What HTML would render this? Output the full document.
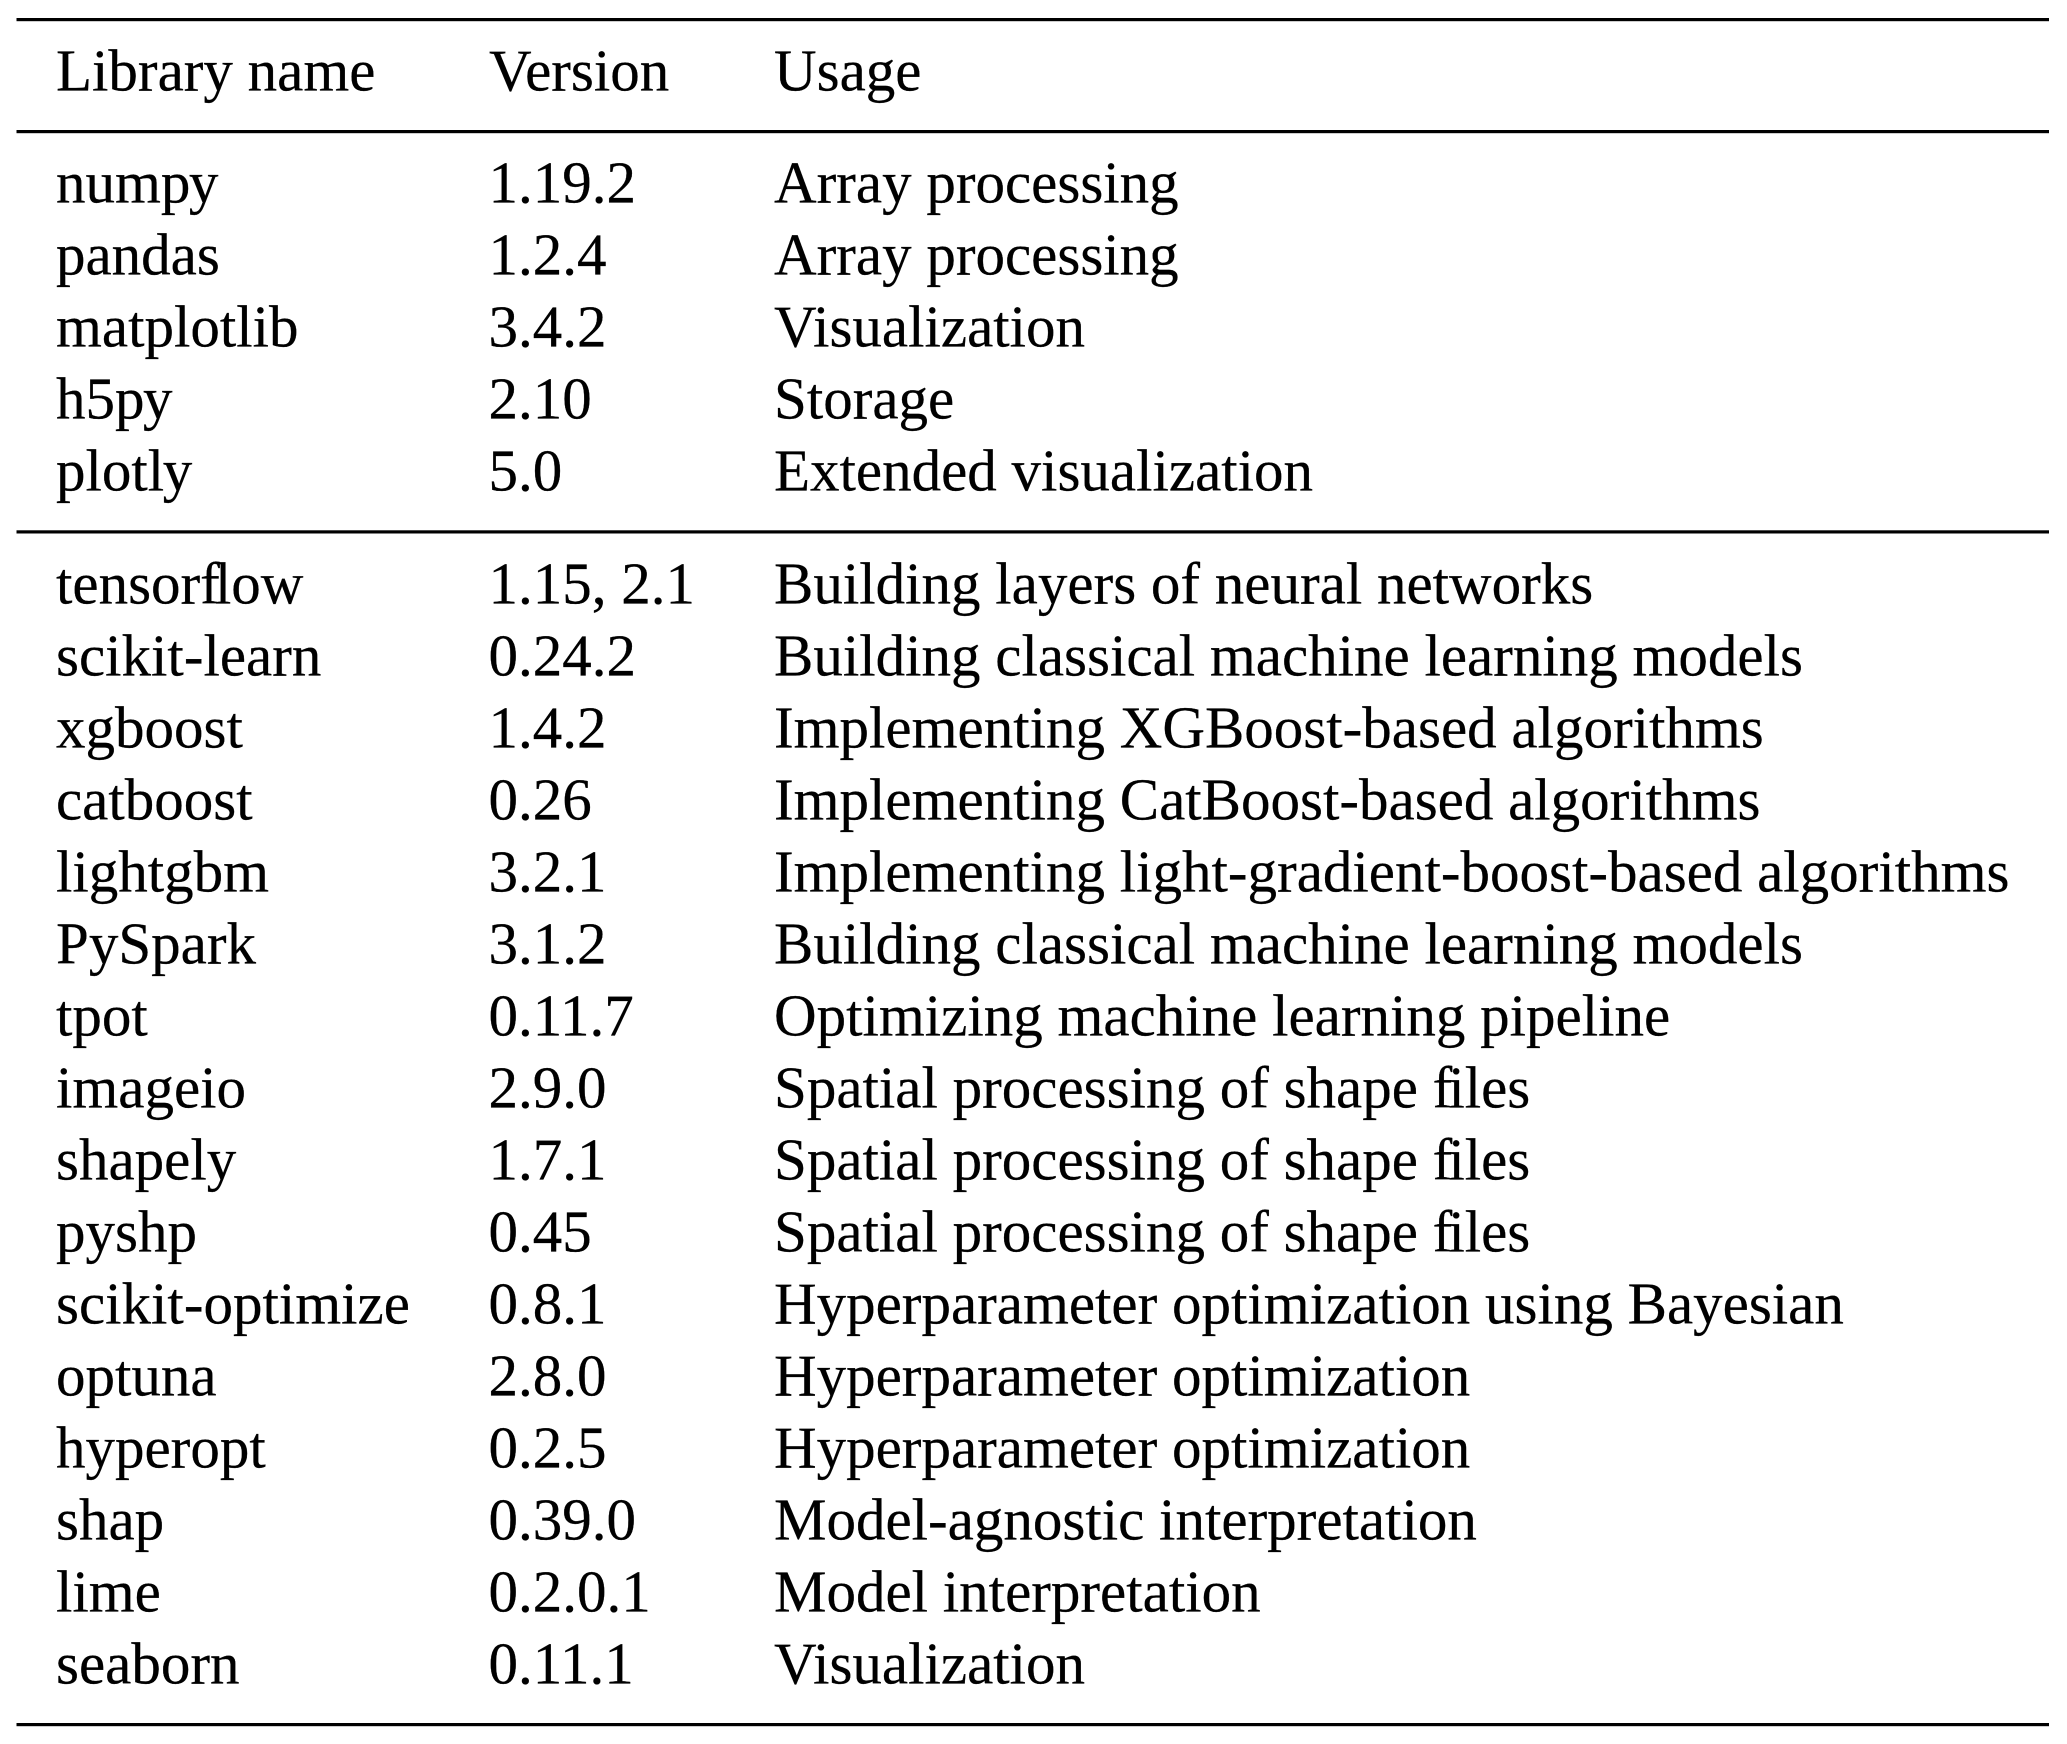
<!DOCTYPE html>
<html><head><meta charset="utf-8"><style>
html,body{margin:0;padding:0;background:#fff}
svg{display:block}
text{font-family:"Liberation Serif",serif;font-size:59px;fill:#000;stroke:#000;stroke-width:.25px;white-space:pre;text-rendering:optimizeLegibility;font-feature-settings:"kern" 1}
</style></head><body>
<svg width="2067" height="1744" viewBox="0 0 2067 1744" xmlns="http://www.w3.org/2000/svg">
<rect width="2067" height="1744" fill="#fff"/>
<g fill="#000">
<rect x="16.5" y="18" width="2032.5" height="3.2"/>
<rect x="16.5" y="130" width="2032.5" height="3.2"/>
<rect x="16.5" y="530.3" width="2032.5" height="3.2"/>
<rect x="16.5" y="1723" width="2032.5" height="3.2"/>
</g>
<g transform="translate(0 .7)">
<text x="56" y="90">Library name</text><text x="489" y="90">Version</text><text x="774" y="90">Usage</text>
<text x="56" y="202">nump<tspan dx="-1.5">y</tspan></text><text x="488.5" y="202">1.19.2</text><text x="774" y="202">Array processing</text>
<text x="56" y="274">pandas</text><text x="488.5" y="274">1.2.4</text><text x="774" y="274">Array processing</text>
<text x="56" y="346">matplotlib</text><text x="488.5" y="346">3.4.2</text><text x="774" y="346">Visualization</text>
<text x="56" y="418">h5p<tspan dx="-1.5">y</tspan></text><text x="488.5" y="418">2.10</text><text x="774" y="418">Storage</text>
<text x="56" y="490">plotl<tspan dx="-1.5">y</tspan></text><text x="488.5" y="490">5.0</text><text x="774" y="490">Extended visualization</text>
<text x="56" y="603">tensorf<tspan dx="-5">low</tspan></text><text x="488.5" y="603">1.15, 2.1</text><text x="774" y="603">Building layers of neural networks</text>
<text x="56" y="675">scikit-learn</text><text x="488.5" y="675">0.24.2</text><text x="774" y="675">Building classical machine learning models</text>
<text x="56" y="747">xgboost</text><text x="488.5" y="747">1.4.2</text><text x="774" y="747">Implementing XGBoost-based algorithms</text>
<text x="56" y="819">catboost</text><text x="488.5" y="819">0.26</text><text x="774" y="819">Implementing CatBoost-based algorithms</text>
<text x="56" y="891">lightgbm</text><text x="488.5" y="891">3.2.1</text><text x="774" y="891">Implementing light-gradient-boost-based algorithms</text>
<text x="56" y="963">PySpark</text><text x="488.5" y="963">3.1.2</text><text x="774" y="963">Building classical machine learning models</text>
<text x="56" y="1035">tpot</text><text x="488.5" y="1035">0.11.7</text><text x="774" y="1035">Optimizing machine learning pipeline</text>
<text x="56" y="1107">imageio</text><text x="488.5" y="1107">2.9.0</text><text x="774" y="1107">Spatial processing of shape f<tspan dx="-4">iles</tspan></text>
<text x="56" y="1179">shapely</text><text x="488.5" y="1179">1.7.1</text><text x="774" y="1179">Spatial processing of shape f<tspan dx="-4">iles</tspan></text>
<text x="56" y="1251">pyshp</text><text x="488.5" y="1251">0.45</text><text x="774" y="1251">Spatial processing of shape f<tspan dx="-4">iles</tspan></text>
<text x="56" y="1323">scikit-optimize</text><text x="488.5" y="1323">0.8.1</text><text x="774" y="1323">Hyperparameter optimization using Bayesian</text>
<text x="56" y="1395">optuna</text><text x="488.5" y="1395">2.8.0</text><text x="774" y="1395">Hyperparameter optimization</text>
<text x="56" y="1467">hyperopt</text><text x="488.5" y="1467">0.2.5</text><text x="774" y="1467">Hyperparameter optimization</text>
<text x="56" y="1539">shap</text><text x="488.5" y="1539">0.39.0</text><text x="774" y="1539">Model-agnostic interpretation</text>
<text x="56" y="1611">lime</text><text x="488.5" y="1611">0.2.0.1</text><text x="774" y="1611">Model interpretation</text>
<text x="56" y="1683">seaborn</text><text x="488.5" y="1683">0.11.1</text><text x="774" y="1683">Visualization</text>
</g>
</svg>
</body></html>
